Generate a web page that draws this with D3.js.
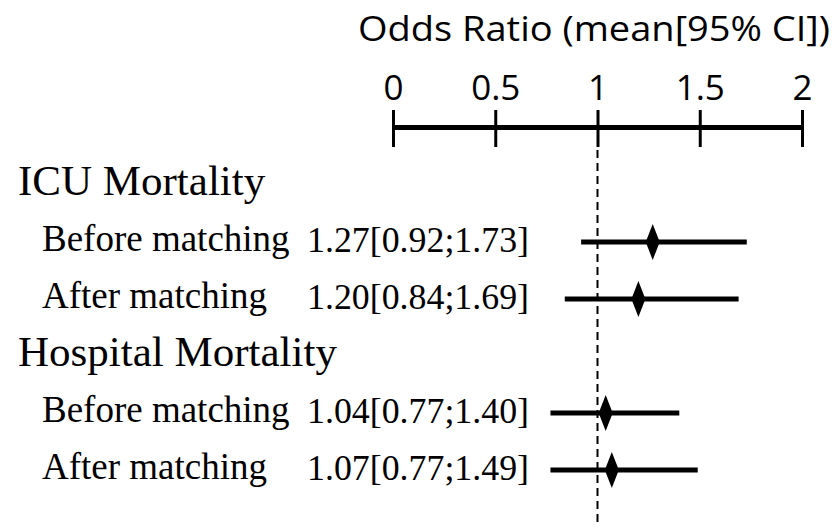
<!DOCTYPE html>
<html>
<head>
<meta charset="utf-8">
<script src="https://cdn.jsdelivr.net/npm/d3@7"></script>
<style>
  html, body { margin: 0; padding: 0; background: #fff; }
  svg { display: block; }
</style>
</head>
<body>
<div id="chart"></div>
<script>
// forest plot data
const groups = ["ICU Mortality", "Hospital Mortality"];
const subLabels = ["Before matching", "After matching", "Before matching", "After matching"];
const rowGroup = [0, 0, 1, 1];
const meanOR = [1.27, 1.20, 1.04, 1.07];
const lowerCI = [0.92, 0.84, 0.77, 0.77];
const upperCI = [1.73, 1.69, 1.40, 1.49];
const tickVals = [0, 0.5, 1, 1.5, 2];
const tickLabels = ["0", "0.5", "1", "1.5", "2"];
const axisTitle = "Odds Ratio (mean[95% CI])";

const width = 837, height = 525;

const svg = d3.select("#chart")
  .append("svg")
  .attr("width", width)
  .attr("height", height);

const x = d3.scaleLinear()
  .domain([0, 2])
  .range([393, 802]);

// row order: header, item, item, header, item, item
const rowKeys = [];
groups.forEach((g, gi) => {
  rowKeys.push("h" + gi);
  rowGroup.forEach((rg, i) => { if (rg === gi) rowKeys.push("r" + i); });
});
const y = d3.scalePoint()
  .domain(rowKeys)
  .range([185, 470]);

const fmt = d3.format(".2f");

// title
svg.append("text")
  .attr("x", 358)
  .attr("y", 41)
  .attr("font-family", "'Open Sans', sans-serif")
  .attr("font-size", 34)
  .attr("textLength", 472)
  .attr("lengthAdjust", "spacingAndGlyphs")
  .attr("fill", "#000")
  .text(axisTitle);

// top axis
const axis = d3.axisTop(x)
  .tickValues(tickVals)
  .tickFormat((d, i) => tickLabels[i])
  .tickSizeOuter(0)
  .tickSizeInner(17)
  .tickPadding(10);

const gAxis = svg.append("g")
  .attr("transform", "translate(0,127)")
  .call(axis);

gAxis.select(".domain")
  .attr("stroke", "#000")
  .attr("stroke-width", 5);
gAxis.selectAll(".tick line")
  .attr("stroke", "#000")
  .attr("stroke-width", 3)
  .attr("y1", 20);
gAxis.selectAll(".tick text")
  .attr("fill", "#000")
  .attr("font-family", "'Open Sans', sans-serif")
  .attr("font-size", 35);

// reference line at OR = 1
svg.append("line")
  .attr("x1", x(1)).attr("x2", x(1))
  .attr("y1", 150).attr("y2", height)
  .attr("stroke", "#000")
  .attr("stroke-width", 2)
  .attr("stroke-dasharray", "8,5");

// group headers
svg.append("g")
  .selectAll("text")
  .data(groups)
  .join("text")
  .attr("x", 18)
  .attr("y", (d, i) => y("h" + i) + 10)
  .attr("font-family", "'Liberation Serif', 'Times New Roman', serif")
  .attr("font-size", 43)
  .attr("fill", "#000")
  .text(d => d);

// rows
const rows = svg.append("g")
  .selectAll("g")
  .data(meanOR.map((m, i) => ({ i, m, lo: lowerCI[i], hi: upperCI[i], label: subLabels[i] })))
  .join("g");

rows.append("text")
  .attr("x", 42)
  .attr("y", d => y("r" + d.i) + 9)
  .attr("font-family", "'Liberation Serif', 'Times New Roman', serif")
  .attr("font-size", 37)
  .attr("fill", "#000")
  .text(d => d.label);

rows.append("text")
  .attr("x", 307)
  .attr("y", d => y("r" + d.i) + 10)
  .attr("font-family", "'Liberation Serif', 'Times New Roman', serif")
  .attr("font-size", 36)
  .attr("textLength", 222)
  .attr("lengthAdjust", "spacingAndGlyphs")
  .attr("fill", "#000")
  .text(d => fmt(d.m) + "[" + fmt(d.lo) + ";" + fmt(d.hi) + "]");

rows.append("line")
  .attr("x1", d => x(d.lo))
  .attr("x2", d => x(d.hi))
  .attr("y1", d => y("r" + d.i))
  .attr("y2", d => y("r" + d.i))
  .attr("stroke", "#000")
  .attr("stroke-width", 5);

rows.append("path")
  .attr("d", d => {
    const cx = x(d.m), cy = y("r" + d.i);
    return `M${cx - 7},${cy} L${cx},${cy - 18} L${cx + 7},${cy} L${cx},${cy + 18} Z`;
  })
  .attr("fill", "#000");
</script>
</body>
</html>
